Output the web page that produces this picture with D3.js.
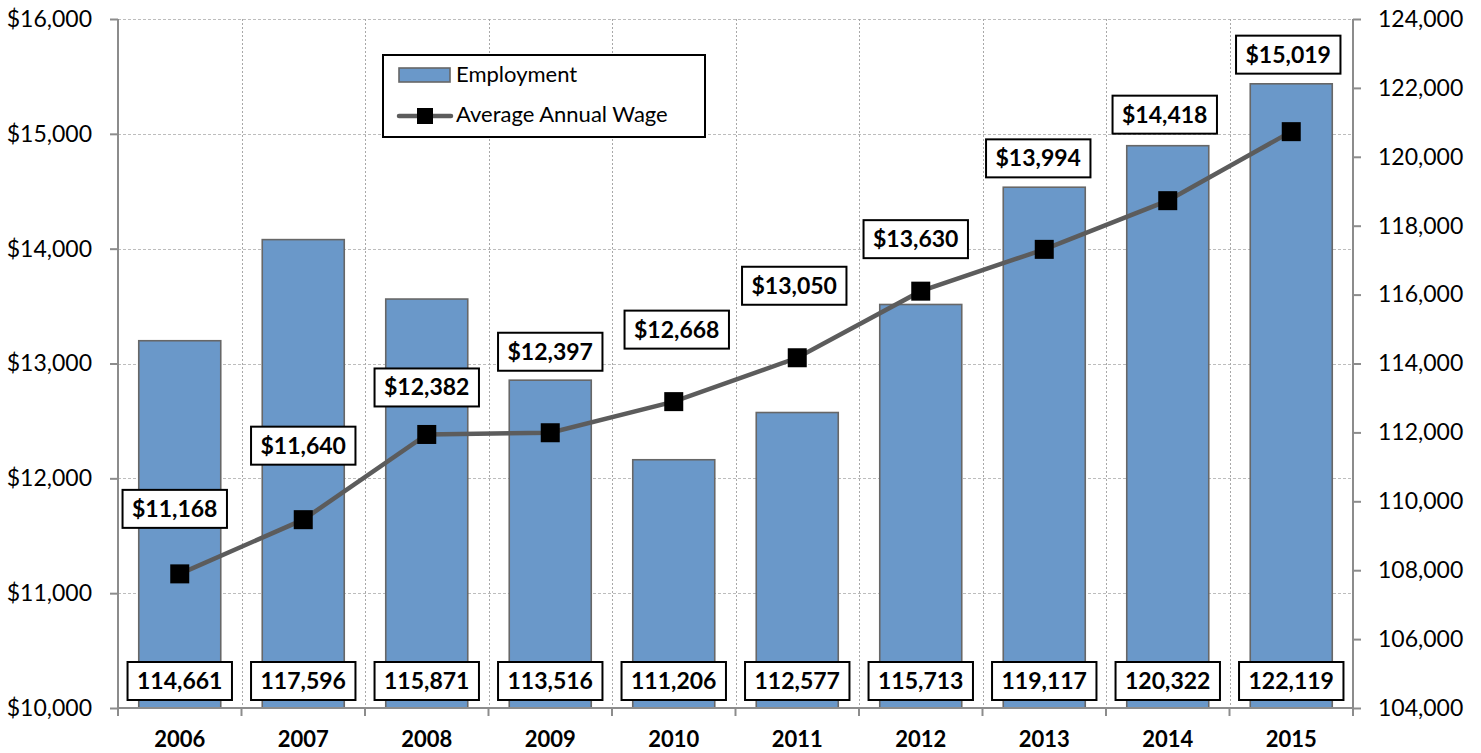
<!DOCTYPE html>
<html>
<head>
<meta charset="utf-8">
<script src="https://cdn.jsdelivr.net/npm/d3@7"></script>
<style>
  body { margin: 0; background: #fff; }
  svg { display: block; font-family: Lato, "Liberation Sans", sans-serif; }
</style>
</head>
<body>
<div id="chartDiv"></div>
<script>
// data
const years = ["2006", "2007", "2008", "2009", "2010", "2011", "2012", "2013", "2014", "2015"];
const employment = [114661, 117596, 115871, 113516, 111206, 112577, 115713, 119117, 120322, 122119];
const avgWage = [11168, 11640, 12382, 12397, 12668, 13050, 13630, 13994, 14418, 15019];
const wageTicks = [10000, 11000, 12000, 13000, 14000, 15000, 16000];
const empTicks = [104000, 106000, 108000, 110000, 112000, 114000, 116000, 118000, 120000, 122000, 124000];

// wage labels were hand placed in the original: [dx, lift above marker]
const wageLabelNudge = [[-5, 46], [0, 55], [0, 28], [0, 62], [3, 53], [-3, 53], [-5, 33], [-6, 72], [-3, 67], [-3, 58]];

const W = 1481, H = 753;
const m = { t: 19, r: 128, b: 45, l: 118 };
const plotW = W - m.l - m.r, plotH = H - m.t - m.b;

const svg = d3.select("#chartDiv").append("svg").attr("width", W).attr("height", H);
const g = svg.append("g").attr("transform", `translate(${m.l},${m.t})`);

const x = d3.scaleBand().domain(years).range([0, plotW]).paddingInner(0.336).paddingOuter(0.168);
const step = x.step();
const yWage = d3.scaleLinear().domain([10000, 16000]).range([plotH, 0]);
const yEmp = d3.scaleLinear().domain([104000, 124000]).range([plotH, 0]);

const fmtDollar = d => "$" + d3.format(",")(d);
const fmtNum = d3.format(",");

// horizontal gridlines (left axis)
g.append("g").selectAll("line").data(wageTicks.slice(1)).join("line")
  .attr("x1", 0).attr("x2", plotW)
  .attr("y1", d => Math.round(yWage(d)) + 0.5).attr("y2", d => Math.round(yWage(d)) + 0.5)
  .attr("stroke", "#bdbdbd").attr("stroke-width", 1).attr("stroke-dasharray", "3,2");

// vertical dotted gridlines between categories
const bounds = d3.range(1, years.length).map(i => i * step);
g.append("g").selectAll("line").data(bounds).join("line")
  .attr("x1", d => Math.round(d) + 0.5).attr("x2", d => Math.round(d) + 0.5)
  .attr("y1", 0).attr("y2", plotH)
  .attr("stroke", "#a8a8a8").attr("stroke-width", 1).attr("stroke-dasharray", "2,2");

// bars
g.append("g").selectAll("rect").data(years).join("rect")
  .attr("x", d => x(d))
  .attr("y", (d, i) => yEmp(employment[i]))
  .attr("width", x.bandwidth())
  .attr("height", (d, i) => plotH - yEmp(employment[i]))
  .attr("fill", "#6a98c9")
  .attr("stroke", "#676767").attr("stroke-width", 1.6);

// axes
const axisCol = "#8c8c8c";
const leftAxis = g.append("g").call(d3.axisLeft(yWage).tickValues(wageTicks).tickSize(8).tickPadding(18).tickFormat(fmtDollar));
const rightAxis = g.append("g").attr("transform", `translate(${plotW},0)`)
  .call(d3.axisRight(yEmp).tickValues(empTicks).tickSize(8).tickPadding(17).tickFormat(fmtNum));
const bottomAxis = g.append("g").attr("transform", `translate(0,${plotH})`)
  .call(d3.axisBottom(x).tickSize(0).tickPadding(23));

[leftAxis, rightAxis].forEach(a => {
  a.select(".domain").attr("stroke", axisCol).attr("stroke-width", 2).attr("d", `M0,0V${plotH}`);
  a.selectAll(".tick line").attr("stroke", axisCol).attr("stroke-width", 2);
  a.selectAll("text").attr("font-family", "Lato, sans-serif").attr("font-size", 23).attr("fill", "#000");
});
bottomAxis.select(".domain").attr("stroke", axisCol).attr("stroke-width", 2).attr("d", `M0,0H${plotW}`);
bottomAxis.selectAll("text").attr("font-family", "Lato, sans-serif").attr("font-size", 22)
  .attr("font-weight", "bold").attr("fill", "#000");
// category boundary ticks below the x axis
g.append("g").selectAll("line").data(d3.range(0, years.length + 1).map(i => i * step)).join("line")
  .attr("x1", d => d).attr("x2", d => d)
  .attr("y1", plotH).attr("y2", plotH + 8)
  .attr("stroke", axisCol).attr("stroke-width", 2);

// wage line + markers
const cx = d => x(d) + x.bandwidth() / 2;
const line = d3.line().x(d => cx(d)).y((d, i) => yWage(avgWage[i]));
g.append("path").datum(years)
  .attr("d", line)
  .attr("fill", "none").attr("stroke", "#5c5c5c").attr("stroke-width", 4.5);
g.append("g").selectAll("rect").data(years).join("rect")
  .attr("x", d => cx(d) - 9.5)
  .attr("y", (d, i) => yWage(avgWage[i]) - 9.5)
  .attr("width", 19).attr("height", 19)
  .attr("fill", "#000");

// boxed label helper
function boxedLabel(parent, text, cxPos, bottomY) {
  const lg = parent.append("g");
  const t = lg.append("text")
    .attr("x", cxPos).attr("y", bottomY - 11)
    .attr("text-anchor", "middle")
    .attr("font-size", 23).attr("font-weight", "bold").attr("fill", "#000")
    .text(text);
  const bw = t.node().getComputedTextLength() + 19;
  lg.insert("rect", "text")
    .attr("x", cxPos - bw / 2).attr("y", bottomY - 38)
    .attr("width", bw).attr("height", 38)
    .attr("fill", "#fff").attr("stroke", "#000").attr("stroke-width", 2);
}

const labels = g.append("g");
years.forEach((yr, i) => {
  boxedLabel(labels, fmtNum(employment[i]), cx(yr), plotH - 8);
  const [dx, lift] = wageLabelNudge[i];
  boxedLabel(labels, fmtDollar(avgWage[i]), cx(yr) + dx, yWage(avgWage[i]) - lift);
});

// legend
const leg = svg.append("g").attr("transform", "translate(383,55)");
leg.append("rect").attr("width", 322).attr("height", 82)
  .attr("fill", "#fff").attr("stroke", "#000").attr("stroke-width", 2);
leg.append("rect").attr("x", 16).attr("y", 13).attr("width", 51).attr("height", 14)
  .attr("fill", "#6a98c9").attr("stroke", "#676767").attr("stroke-width", 1.6);
leg.append("line").attr("x1", 16).attr("x2", 68).attr("y1", 61).attr("y2", 61)
  .attr("stroke", "#5c5c5c").attr("stroke-width", 4.5).attr("stroke-linecap", "round");
leg.append("rect").attr("x", 34).attr("y", 53).attr("width", 16).attr("height", 16).attr("fill", "#000");
leg.append("text").attr("x", 73).attr("y", 27).attr("font-size", 22).attr("fill", "#000").text("Employment");
leg.append("text").attr("x", 73).attr("y", 67).attr("font-size", 22).attr("fill", "#000").text("Average Annual Wage");
</script>
</body>
</html>
